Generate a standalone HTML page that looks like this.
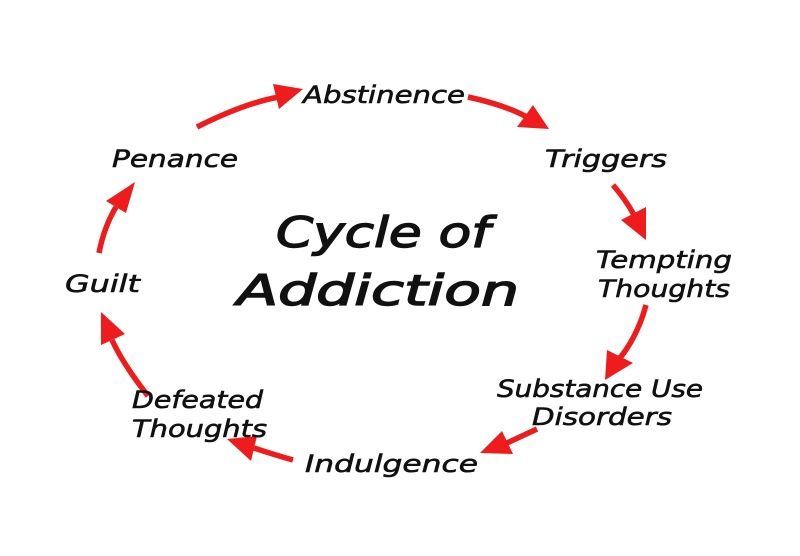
<!DOCTYPE html>
<html>
<head>
<meta charset="utf-8">
<style>
  html,body{margin:0;padding:0;background:#fff;}
  svg{display:block;}
  text{font-family:"DejaVu Sans","Liberation Sans",sans-serif;font-style:oblique;fill:#111;}
  .lbl{font-size:24px;stroke:#111;stroke-width:0.6px;}
  .ttl{font-size:42px;stroke:#111;stroke-width:1.4px;}
  .ln{fill:none;stroke:#ee1c1c;stroke-width:5.5;stroke-linecap:butt;}
  .hd{fill:#ee1c1c;}
</style>
</head>
<body>
<svg width="800" height="556" viewBox="0 0 800 556" xmlns="http://www.w3.org/2000/svg">
  <rect width="800" height="556" fill="#fff"/>

  <!-- Arrows -->
  <path class="ln" d="M197,127 Q245,103 279,97"/>
  <polygon class="hd" points="303,89 273,84 279,109"/>
  <path class="ln" d="M468,97 Q505,105 527,117"/>
  <polygon class="hd" points="549,129 517,127 533,105"/>
  <path class="ln" d="M613,185 Q626,200 634,215"/>
  <polygon class="hd" points="646,240 621,220 646,207"/>
  <path class="ln" d="M646,305 Q638,335 620,358"/>
  <polygon class="hd" points="605,380 607,350 633,363"/>
  <path class="ln" d="M537,429 Q522,436 507,443"/>
  <polygon class="hd" points="480,453 502,431 513,454"/>
  <path class="ln" d="M293,460 Q275,455 254,448"/>
  <polygon class="hd" points="227,439 257,436 251,461"/>
  <path class="ln" d="M148,396 Q123,364 112,340"/>
  <polygon class="hd" points="101,312 101,345 125,334"/>
  <path class="ln" d="M99,253 Q104,227 116,207"/>
  <polygon class="hd" points="135,182 106,201 126,213"/>

  <!-- Labels -->
  <text class="lbl" x="303" y="103" textLength="162" lengthAdjust="spacingAndGlyphs">Abstinence</text>
  <text class="lbl" x="545" y="167" textLength="122" lengthAdjust="spacingAndGlyphs">Triggers</text>
  <text class="lbl" x="112" y="167" textLength="126" lengthAdjust="spacingAndGlyphs">Penance</text>
  <text class="lbl" x="65" y="292" textLength="75" lengthAdjust="spacingAndGlyphs">Guilt</text>

  <text class="lbl" x="596" y="268" textLength="136" lengthAdjust="spacingAndGlyphs">Tempting</text>
  <text class="lbl" x="598" y="297" textLength="132" lengthAdjust="spacingAndGlyphs">Thoughts</text>

  <text class="lbl" x="497" y="397" textLength="206" lengthAdjust="spacingAndGlyphs">Substance Use</text>
  <text class="lbl" x="532" y="425" textLength="140" lengthAdjust="spacingAndGlyphs">Disorders</text>

  <text class="lbl" x="132" y="408" textLength="131" lengthAdjust="spacingAndGlyphs">Defeated</text>
  <text class="lbl" x="132" y="437" textLength="135" lengthAdjust="spacingAndGlyphs">Thoughts</text>

  <text class="lbl" x="305" y="472" textLength="173" lengthAdjust="spacingAndGlyphs">Indulgence</text>

  <!-- Title -->
  <text class="ttl" x="276" y="247" textLength="214" lengthAdjust="spacingAndGlyphs">Cycle of</text>
  <text class="ttl" x="237" y="305" textLength="282" lengthAdjust="spacingAndGlyphs">Addiction</text>
</svg>
</body>
</html>
